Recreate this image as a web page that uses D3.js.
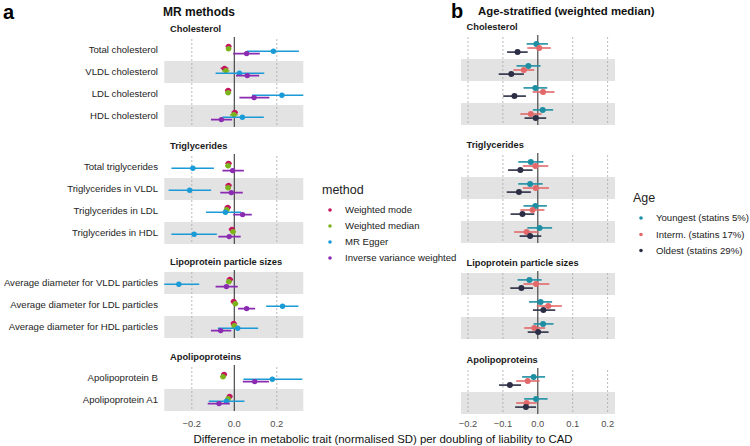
<!DOCTYPE html>
<html><head><meta charset="utf-8">
<script src="https://cdn.jsdelivr.net/npm/d3@7/dist/d3.min.js"></script>
<style>body{margin:0;background:#fff}svg{display:block;font-family:"Liberation Sans",Arial,Helvetica,sans-serif}</style>
</head><body><svg id="c" width="750" height="446"></svg>
<script>
// ---------- data ----------
const groups = ["Cholesterol","Triglycerides","Lipoprotein particle sizes","Apolipoproteins"];
const traits = ["Total cholesterol","VLDL cholesterol","LDL cholesterol","HDL cholesterol",
  "Total triglycerides","Triglycerides in VLDL","Triglycerides in LDL","Triglycerides in HDL",
  "Average diameter for VLDL particles","Average diameter for LDL particles","Average diameter for HDL particles",
  "Apolipoprotein B","Apolipoprotein A1"];
const traitGroup = [0,0,0,0,1,1,1,1,2,2,2,3,3];

const methods = ["Weighted mode","Weighted median","MR Egger","Inverse variance weighted"];
const modeEst = [-0.027,-0.046,-0.029,0.002,-0.027,-0.027,-0.031,-0.011,-0.021,-0.003,-0.003,-0.048,-0.022];
const modeLo  = [-0.041,-0.064,-0.044,-0.013,-0.042,-0.042,-0.046,-0.026,-0.036,-0.017,-0.017,-0.062,-0.036];
const modeHi  = [-0.013,-0.028,-0.014,0.017,-0.012,-0.012,-0.016,0.004,-0.006,0.011,0.011,-0.034,-0.008];
const medEst  = [-0.027,-0.040,-0.029,-0.002,-0.029,-0.029,-0.036,-0.006,-0.026,0.005,0.000,-0.053,-0.029];
const medLo   = [-0.040,-0.057,-0.043,-0.020,-0.043,-0.043,-0.050,-0.020,-0.040,-0.009,-0.014,-0.067,-0.043];
const medHi   = [-0.014,-0.023,-0.015,0.016,-0.015,-0.015,-0.022,0.008,-0.012,0.019,0.014,-0.039,-0.015];
const eggEst  = [0.184,0.024,0.224,0.038,-0.195,-0.210,-0.042,-0.189,-0.261,0.227,0.016,0.179,-0.037];
const eggLo   = [0.059,-0.088,0.083,-0.056,-0.296,-0.309,-0.133,-0.296,-0.360,0.150,-0.077,0.043,-0.120];
const eggHi   = [0.304,0.141,0.365,0.139,-0.096,-0.109,0.032,-0.082,-0.165,0.302,0.112,0.320,0.048];
const ivwEst  = [0.058,0.061,0.093,-0.061,-0.008,-0.014,0.039,-0.024,-0.037,0.058,-0.064,0.096,-0.072];
const ivwLo   = [-0.005,0.008,0.024,-0.110,-0.056,-0.066,-0.005,-0.075,-0.088,0.018,-0.110,0.040,-0.125];
const ivwHi   = [0.120,0.117,0.165,-0.010,0.045,0.040,0.082,0.030,0.016,0.098,-0.014,0.163,-0.021];

const ages = ["Youngest (statins 5%)","Interm. (statins 17%)","Oldest (statins 29%)"];
const youngEst = [-0.004,-0.027,-0.007,0.014,-0.020,-0.022,-0.007,0.005,-0.024,0.008,0.015,-0.012,-0.005];
const youngLo  = [-0.032,-0.061,-0.041,-0.014,-0.056,-0.056,-0.041,-0.030,-0.058,-0.025,-0.012,-0.045,-0.039];
const youngHi  = [0.029,0.008,0.027,0.044,0.016,0.014,0.026,0.041,0.011,0.041,0.045,0.021,0.028];
const intEst   = [0.004,-0.040,0.015,-0.020,-0.007,-0.006,-0.015,-0.032,-0.005,0.030,-0.010,-0.029,-0.032];
const intLo    = [-0.030,-0.070,-0.015,-0.050,-0.043,-0.043,-0.050,-0.068,-0.041,-0.003,-0.039,-0.062,-0.062];
const intHi    = [0.037,-0.010,0.048,0.011,0.030,0.032,0.019,0.002,0.033,0.069,0.021,0.005,-0.003];
const oldEst   = [-0.058,-0.076,-0.067,-0.006,-0.050,-0.054,-0.044,-0.022,-0.047,0.016,0.001,-0.080,-0.034];
const oldLo    = [-0.088,-0.112,-0.099,-0.038,-0.085,-0.089,-0.078,-0.052,-0.079,-0.014,-0.029,-0.111,-0.065];
const oldHi    = [-0.029,-0.040,-0.034,0.024,-0.015,-0.020,-0.010,0.010,-0.014,0.050,0.031,-0.048,-0.005];

const ticksA = [-0.2,0.0,0.2];
const ticksB = [-0.2,-0.1,0.0,0.1,0.2];
// ---------- style ----------
const methodColors = ["#C4155F","#7DB41E","#1A9AD6","#8A2BB2"];
const ageColors = ["#1E8FA3","#E3686A","#2C2E45"];

const svg = d3.select("#c");
const defs = svg.append("defs");
const rowH = 22;

function drawPanel(opt){
  const x = d3.scaleLinear().domain([-0.2,0.2]).range(opt.xr);
  const g = svg.append("g");
  groups.forEach((gname, gi) => {
    const idx = traits.map((t,i)=>i).filter(i=>traitGroup[i]===gi);
    const top = opt.tops[gi];
    const y = d3.scaleBand().domain(idx).range([top, top+idx.length*rowH]);
    const dodge = d3.scalePoint().domain(d3.range(opt.series.length)).range([-opt.dodge, opt.dodge]);
    const n = idx.length;
    idx.forEach((ti, k) => {
      if ((n-1-k)%2===0) g.append("rect").attr("x",opt.px[0]).attr("y",y(ti)).attr("width",opt.px[1]-opt.px[0]).attr("height",y.bandwidth()).attr("fill","#E3E3E3");
    });
    opt.grid.forEach(v=>{
      g.append("line").attr("x1",x(v)).attr("x2",x(v)).attr("y1",top).attr("y2",top+n*rowH)
       .attr("stroke","#A8A8A8").attr("stroke-width",0.8).attr("stroke-dasharray","2,2");
    });
    g.append("line").attr("x1",x(0)).attr("x2",x(0)).attr("y1",top-2).attr("y2",top+n*rowH)
      .attr("stroke","#3a3a3a").attr("stroke-width",1.1);
    g.append("text").attr("x",opt.titleX).attr("y",top-7).attr("font-size",9.3).attr("font-weight","bold").attr("fill","#1a1a1a").text(gname);
    if (opt.labels) idx.forEach(ti=>{
      g.append("text").attr("x",158).attr("y",y(ti)+y.bandwidth()/2+3.4).attr("text-anchor","end").attr("font-size",9.6).attr("fill","#1e1e1e").text(traits[ti]);
    });
    const cid = "clip"+opt.id+gi;
    defs.append("clipPath").attr("id",cid).append("rect").attr("x",opt.px[0]).attr("y",top-3).attr("width",opt.px[1]-opt.px[0]).attr("height",n*rowH+6);
    const mg = g.append("g").attr("clip-path",`url(#${cid})`);
    opt.series.forEach((s, si) => {
      idx.forEach(ti => {
        const cy = y(ti)+y.bandwidth()/2 + dodge(si);
        mg.append("line").attr("x1",x(s.lo[ti])).attr("x2",x(s.hi[ti])).attr("y1",cy).attr("y2",cy)
          .attr("stroke",opt.colors[si]).attr("stroke-width",1.6);
        mg.append("circle").attr("cx",x(s.est[ti])).attr("cy",cy).attr("r",opt.r).attr("fill",opt.colors[si]);
      });
    });
  });
  opt.ticks.forEach(v=>{
    g.append("text").attr("x",x(v)).attr("y",opt.tickY).attr("text-anchor","middle").attr("font-size",9.3).attr("fill","#4D4D4D")
     .text(d3.format(opt.tickFmt)(v).replace("-","\u2212"));
  });
}

drawPanel({id:"a", xr:[191.8,276.8], px:[164.3,303.3], tops:[39,156,272,367], grid:[-0.2,0.2], titleX:170,
  labels:true, dodge:3.6, r:2.7, colors:methodColors, ticks:ticksA, tickY:427, tickFmt:".1f",
  series:[{est:modeEst,lo:modeLo,hi:modeHi},{est:medEst,lo:medLo,hi:medHi},{est:eggEst,lo:eggLo,hi:eggHi},{est:ivwEst,lo:ivwLo,hi:ivwHi}]});
drawPanel({id:"b", xr:[468.0,607.6], px:[461,615], tops:[37,155,273,370], grid:[-0.2,-0.1,0.1,0.2], titleX:466.5,
  labels:false, dodge:4.1, r:3, colors:ageColors, ticks:ticksB, tickY:427, tickFmt:".1f",
  series:[{est:youngEst,lo:youngLo,hi:youngHi},{est:intEst,lo:intLo,hi:intHi},{est:oldEst,lo:oldLo,hi:oldHi}]});

svg.append("text").attr("x",3).attr("y",18.5).attr("font-size",20).attr("font-weight","bold").attr("fill","#000").text("a");
svg.append("text").attr("x",451).attr("y",17.5).attr("font-size",20).attr("font-weight","bold").attr("fill","#000").text("b");
svg.append("text").attr("x",163).attr("y",16).attr("font-size",12).attr("font-weight","bold").attr("fill","#111").text("MR methods");
svg.append("text").attr("x",478).attr("y",14.5).attr("font-size",11.4).attr("font-weight","bold").attr("fill","#111").text("Age-stratified (weighted median)");

function legend(x0, ty, title, items, colors, yy){
  svg.append("text").attr("x",x0).attr("y",ty).attr("font-size",12.5).attr("fill","#222").text(title);
  items.forEach((t,i)=>{
    svg.append("circle").attr("cx",x0+8).attr("cy",yy[i]).attr("r",1.8).attr("fill",colors[i]);
    svg.append("text").attr("x",x0+23).attr("y",yy[i]+3.4).attr("font-size",9.6).attr("fill","#222").text(t);
  });
}
legend(322, 194, "method", methods, methodColors, [210,226,242,258]);
legend(633, 202, "Age", ages, ageColors, [218,234.5,250.5]);

svg.append("text").attr("x",383).attr("y",443).attr("text-anchor","middle").attr("font-size",11.4).attr("fill","#111")
  .text("Difference in metabolic trait (normalised SD) per doubling of liability to CAD");
</script></body></html>
